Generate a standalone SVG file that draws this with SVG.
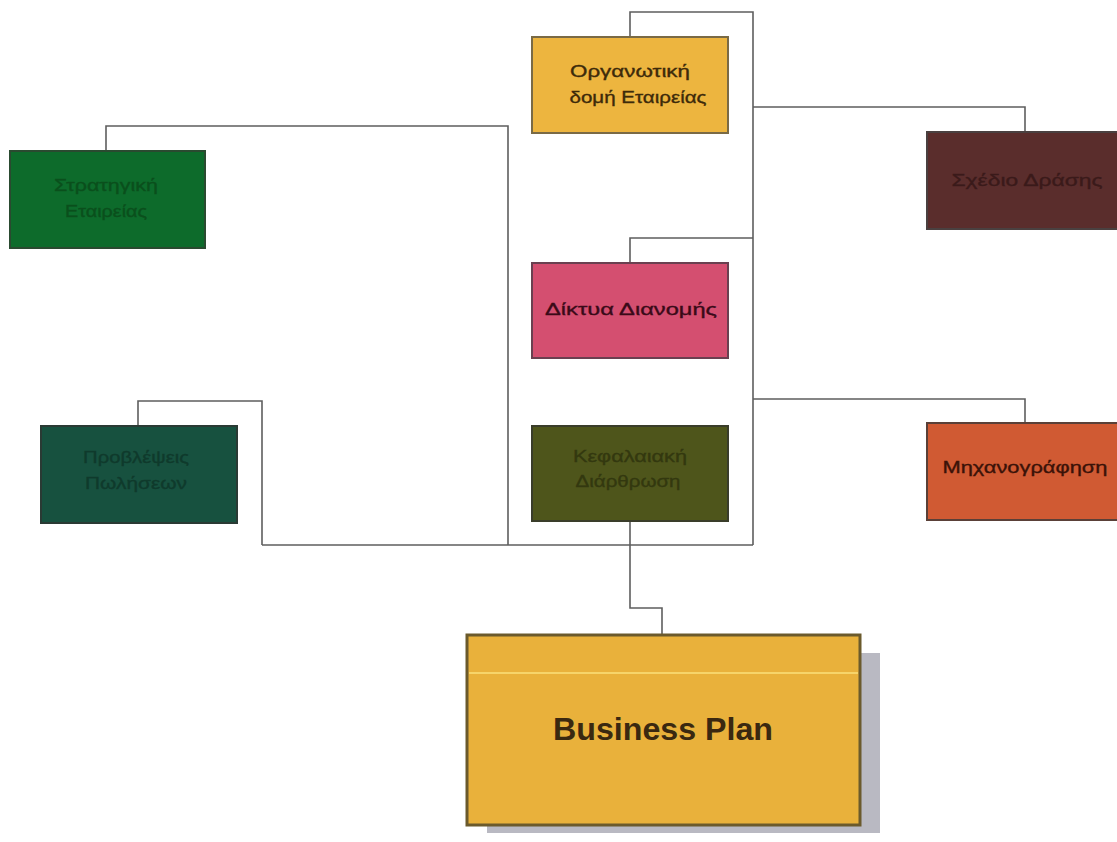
<svg xmlns="http://www.w3.org/2000/svg" width="1117" height="842" viewBox="0 0 1117 842">
<style>
.box{stroke-width:2}
.lbl{font-family:"Liberation Sans","Noto Sans",Arial,sans-serif;font-size:17px;text-anchor:middle;stroke-width:0.35}
.conn{fill:none;stroke:#5e5e5e;stroke-width:1.6}
</style>
<rect width="1117" height="842" fill="#ffffff"/>
<g id="connectors">
<polyline class="conn" points="630,36 630,12 753,12 753,545"/>
<polyline class="conn" points="753,107 1025,107 1025,131"/>
<polyline class="conn" points="753,238 630,238 630,262"/>
<polyline class="conn" points="753,399 1025,399 1025,422"/>
<polyline class="conn" points="262,545 753,545"/>
<polyline class="conn" points="106,150 106,126 508,126 508,545"/>
<polyline class="conn" points="138,425 138,401 262,401 262,545"/>
<polyline class="conn" points="630,521 630,608 662,608 662,634"/>
</g>
<g id="strategy">
<rect class="box" x="10" y="151" width="195" height="97" fill="#0d6b2b" stroke="#2a4a30"/>
<text class="lbl" fill="#0a4f1c" stroke="#0a4f1c" x="106" y="191" textLength="104" lengthAdjust="spacingAndGlyphs">Στρατηγική</text>
<text class="lbl" fill="#0a4f1c" stroke="#0a4f1c" x="106" y="217" textLength="82" lengthAdjust="spacingAndGlyphs">Εταιρείας</text>
</g>
<g id="forecast">
<rect class="box" x="41" y="426" width="196" height="97" fill="#17513f" stroke="#2a3a34"/>
<text class="lbl" fill="#0f3a2c" stroke="#0f3a2c" x="136" y="463" textLength="106" lengthAdjust="spacingAndGlyphs">Προβλέψεις</text>
<text class="lbl" fill="#0f3a2c" stroke="#0f3a2c" x="136" y="489" textLength="102" lengthAdjust="spacingAndGlyphs">Πωλήσεων</text>
</g>
<g id="organisation">
<rect class="box" x="532" y="37" width="196" height="96" fill="#edb53f" stroke="#7a6a45"/>
<text class="lbl" fill="#3d2a0a" stroke="#3d2a0a" x="630" y="77" textLength="120" lengthAdjust="spacingAndGlyphs">Οργανωτική</text>
<text class="lbl" fill="#3d2a0a" stroke="#3d2a0a" x="638" y="103" textLength="137" lengthAdjust="spacingAndGlyphs">δομή Εταιρείας</text>
</g>
<g id="actionplan">
<rect class="box" x="927" y="132" width="192" height="97" fill="#5a2d2c" stroke="#4a4040"/>
<text class="lbl" fill="#3a1a1a" stroke="#3a1a1a" x="1027" y="186" textLength="151" lengthAdjust="spacingAndGlyphs">Σχέδιο Δράσης</text>
</g>
<g id="distribution">
<rect class="box" x="532" y="263" width="196" height="95" fill="#d44f70" stroke="#6a4050"/>
<text class="lbl" fill="#3a0a18" stroke="#3a0a18" x="631" y="315" textLength="172" lengthAdjust="spacingAndGlyphs">Δίκτυα Διανομής</text>
</g>
<g id="capital">
<rect class="box" x="532" y="426" width="196" height="95" fill="#4e551b" stroke="#3a3d2a"/>
<text class="lbl" fill="#33380f" stroke="#33380f" x="630" y="462" textLength="114" lengthAdjust="spacingAndGlyphs">Κεφαλαιακή</text>
<text class="lbl" fill="#33380f" stroke="#33380f" x="628" y="487" textLength="105" lengthAdjust="spacingAndGlyphs">Διάρθρωση</text>
</g>
<g id="computing">
<rect class="box" x="927" y="423" width="192" height="97" fill="#d05a33" stroke="#5a4038"/>
<text class="lbl" fill="#3a1208" stroke="#3a1208" x="1025" y="473" textLength="165" lengthAdjust="spacingAndGlyphs">Μηχανογράφηση</text>
</g>
<g id="businessplan">
<rect x="487" y="653" width="393" height="180" fill="#b9b9c2"/>
<rect x="467" y="635" width="393" height="190" fill="#e9b13b" stroke="#6b5a2c" stroke-width="3"/>
<line x1="469" y1="673" x2="858" y2="673" stroke="#f6d46a" stroke-width="2"/>
<text x="663" y="740" font-family="'Liberation Sans',Arial,sans-serif" font-size="31" font-weight="bold" fill="#3a2810" text-anchor="middle" textLength="220" lengthAdjust="spacingAndGlyphs">Business Plan</text>
</g>
</svg>
